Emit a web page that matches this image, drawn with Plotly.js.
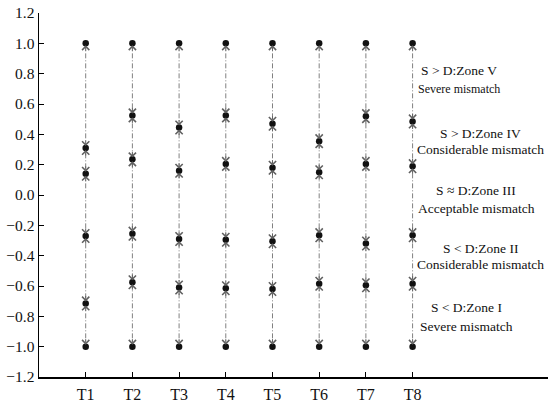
<!DOCTYPE html>
<html>
<head>
<meta charset="utf-8">
<script src="https://cdn.plot.ly/plotly-3.0.1.min.js"></script>
<style>html,body{margin:0;padding:0;background:#fff;}#chart{width:550px;height:403px;}</style>
</head>
<body>
<div id="chart"></div>
<script>
var categories = ["T1","T2","T3","T4","T5","T6","T7","T8"];
var upperLimit = [1.0, 1.0, 1.0, 1.0, 1.0, 1.0, 1.0, 1.0];
var boundaryVtoIV = [0.31, 0.525, 0.445, 0.525, 0.47, 0.355, 0.52, 0.485];
var boundaryIVtoIII = [0.14, 0.235, 0.16, 0.205, 0.18, 0.15, 0.205, 0.19];
var boundaryIIItoII = [-0.27, -0.255, -0.29, -0.295, -0.305, -0.265, -0.32, -0.265];
var boundaryIItoI = [-0.715, -0.575, -0.61, -0.615, -0.62, -0.585, -0.595, -0.585];
var lowerLimit = [-1.0, -1.0, -1.0, -1.0, -1.0, -1.0, -1.0, -1.0];
var yTickVals = [-1.2, -1.0, -0.8, -0.6, -0.4, -0.2, 0.0, 0.2, 0.4, 0.6, 0.8, 1.0, 1.2];
var zoneLabels = [
  {text: "S &gt; D:Zone V", x: 0.826, y: 0.843, size: 13.5},
  {text: "Severe mismatch", x: 0.825, y: 0.791, size: 12},
  {text: "S &gt; D:Zone IV", x: 0.868, y: 0.670, size: 13.5},
  {text: "Considerable mismatch", x: 0.868, y: 0.626, size: 13.5},
  {text: "S ≈ D:Zone III", x: 0.859, y: 0.511, size: 13.5},
  {text: "Acceptable mismatch", x: 0.859, y: 0.464, size: 13.5},
  {text: "S &lt; D:Zone II", x: 0.868, y: 0.354, size: 13.5},
  {text: "Considerable mismatch", x: 0.868, y: 0.310, size: 13.5},
  {text: "S &lt; D:Zone I", x: 0.839, y: 0.192, size: 13.5},
  {text: "Severe mismatch", x: 0.839, y: 0.140, size: 13.5}
];

var series = [upperLimit, boundaryVtoIV, boundaryIVtoIII, boundaryIIItoII, boundaryIItoI, lowerLimit];
var font = "'Liberation Serif', 'Times New Roman', serif";

var traces = [];
var annotations = [];
categories.forEach(function(cat, i) {
  var ys = series.map(function(s){ return s[i]; });
  traces.push({
    type: "scatter", mode: "lines",
    x: ys.map(function(){ return cat; }), y: ys,
    line: {color: "#808080", width: 1, dash: "5px,2px,1px,2px"},
    hoverinfo: "skip", showlegend: false
  });
  for (var k = 0; k < ys.length - 1; k++) {
    annotations.push({x: cat, y: ys[k+1], xref: "x", yref: "y", ax: 0, ay: -9, text: "",
      showarrow: true, arrowhead: 4, arrowsize: 1.4, arrowwidth: 1, arrowcolor: "#606060", standoff: 2});
    annotations.push({x: cat, y: ys[k], xref: "x", yref: "y", ax: 0, ay: 9, text: "",
      showarrow: true, arrowhead: 4, arrowsize: 1.4, arrowwidth: 1, arrowcolor: "#606060", standoff: 2});
  }
});
categories.forEach(function(cat, i) {
  var ys = series.map(function(s){ return s[i]; });
  traces.push({
    type: "scatter", mode: "markers",
    x: ys.map(function(){ return cat; }), y: ys,
    marker: {color: "#111", size: 6.5},
    hoverinfo: "skip", showlegend: false
  });
});
zoneLabels.forEach(function(z) {
  annotations.push({text: z.text, x: z.x, y: z.y, xref: "paper", yref: "paper",
    xanchor: "center", yanchor: "middle", showarrow: false,
    font: {family: font, size: z.size, color: "#111"}});
});

var layout = {
  width: 550, height: 403,
  margin: {l: 39, r: 2, t: 13, b: 26},
  paper_bgcolor: "#fff", plot_bgcolor: "#fff",
  font: {family: font, size: 14, color: "#111"},
  showlegend: false,
  xaxis: {
    type: "category", categoryorder: "array", categoryarray: categories,
    range: [-1.0, 9.9], showgrid: false, zeroline: false,
    showline: true, linecolor: "#000", linewidth: 1.5,
    ticks: "inside", ticklen: 5, tickwidth: 1, tickcolor: "#000",
    ticklabelstandoff: 2,
    tickfont: {family: font, size: 16, color: "#111"}
  },
  yaxis: {
    range: [-1.2, 1.2], tickvals: yTickVals,
    ticktext: yTickVals.map(function(v){ return (v < 0 ? "\u2212" : "") + Math.abs(v).toFixed(1); }),
    showgrid: false, zeroline: false,
    showline: true, linecolor: "#000", linewidth: 1.5,
    ticks: "inside", ticklen: 5, tickwidth: 1, tickcolor: "#000",
    tickfont: {family: font, size: 15.5, color: "#111"}
  },
  annotations: annotations
};

Plotly.newPlot("chart", traces, layout, {displayModeBar: false, staticPlot: true});
</script>
</body>
</html>
